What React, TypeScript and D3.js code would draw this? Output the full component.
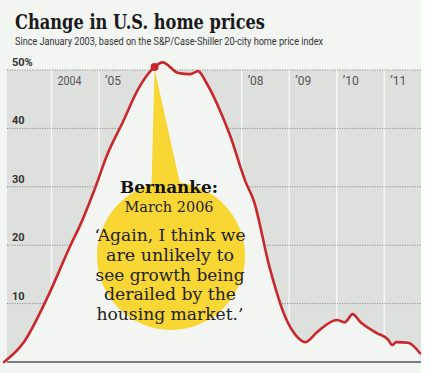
import React from "react";
import * as d3 from "d3";

const months: string[] = [
  "2003-01", "2003-06", "2003-12", "2004-06", "2004-08", "2004-12",
  "2005-03", "2005-07", "2005-11", "2006-03", "2006-05", "2006-09",
  "2006-12", "2007-02", "2007-04", "2007-08", "2007-10", "2008-02",
  "2008-04", "2008-08", "2008-12", "2009-03", "2009-05", "2009-08",
  "2010-01", "2010-03", "2010-05", "2010-07", "2010-11", "2011-02",
  "2011-03", "2011-04", "2011-07", "2011-10",
];
const values: number[] = [
  0, 3.4, 11.1, 20.3, 23.1, 29.8,
  35.4, 41.1, 46.9, 50.5, 51.3, 49.5,
  49.3, 49.8, 47.9, 42.3, 38.9, 30.8,
  27.7, 16.3, 7.7, 4.3, 3.4, 5.1,
  7.2, 6.8, 8.2, 6.8, 5.0, 3.8,
  2.9, 3.4, 3.3, 1.5,
];
const yTicks: number[] = [10, 20, 30, 40, 50];
const yTickLabels: string[] = ["10", "20", "30", "40", "50%"];
const gridYears: number[] = [2004, 2005, 2006, 2007, 2008, 2009, 2010, 2011];
const yearLabelYears: number[] = [2004, 2005, 2008, 2009, 2010, 2011];
const yearLabels: string[] = ["2004", "\u201905", "\u201908", "\u201909", "\u201910", "\u201911"];
const highlightMonth = "2006-03";
const quoteLines: string[] = [
  "\u2018Again, I think we",
  "are unlikely to",
  "see growth being",
  "derailed by the",
  "housing market.\u2019",
];
const quoteWidths: number[] = [151, 128, 149, 132, 147];

const parseMonth = (s: string): number => {
  const [y, m] = s.split("-").map(Number);
  return y + (m - 1) / 12;
};

export default function App() {
  const W = 431;
  const H = 373;
  const x = d3.scaleLinear().domain([2003, 2011.75]).range([4, 420]);
  const y = d3.scaleLinear().domain([0, 50]).range([362, 70]);
  const data = months.map((m, i) => ({ t: parseMonth(m), v: values[i] }));
  const line = d3
    .line<{ t: number; v: number }>()
    .x((d) => x(d.t))
    .y((d) => y(d.v))
    .curve(d3.curveMonotoneX);
  const area = d3
    .area<{ t: number; v: number }>()
    .x((d) => x(d.t))
    .y0(y(0))
    .y1((d) => y(d.v))
    .curve(d3.curveMonotoneX);
  const hi = data[months.indexOf(highlightMonth)];
  const hx = x(hi.t);
  const hy = y(hi.v);

  const bg = "#f2f5f1";
  const gray = "#dde0dc";
  const red = "#c8282d";
  const yellow = "#f8d633";
  const cx = 171;
  const cy = 256;
  const r = 74;

  return (
    <svg
      width={W}
      height={H}
      style={{ position: "absolute", left: 0, top: 0, background: "#fff" }}
    >
      <rect x={0} y={0} width={421} height={H} fill={bg} />
      <text
        x={15}
        y={29}
        fontFamily="DejaVu Serif"
        fontWeight="bold"
        fontSize={20}
        fill="#1a1a1a"
        textLength={250}
        lengthAdjust="spacingAndGlyphs"
      >
        Change in U.S. home prices
      </text>
      <text
        x={15}
        y={45}
        fontFamily="Roboto, Liberation Sans, sans-serif"
        fontSize={10}
        fill="#333"
        textLength={308}
        lengthAdjust="spacingAndGlyphs"
      >
        Since January 2003, based on the S&amp;P/Case-Shiller 20-city home price index
      </text>

      <rect x={7} y={y(50)} width={421 - 7} height={y(0) - y(50)} fill={gray} />
      {gridYears.map((yr) => (
        <line
          key={yr}
          x1={x(yr)}
          x2={x(yr)}
          y1={y(50)}
          y2={y(0)}
          stroke="#f6f7f5"
          strokeWidth={1.5}
        />
      ))}
      {yTicks.map((v) => (
        <line
          key={v}
          x1={7}
          x2={421}
          y1={y(v)}
          y2={y(v)}
          stroke="#8a8d8a"
          strokeWidth={1}
          strokeDasharray="1.2,1.3"
        />
      ))}
      {yearLabelYears.map((yr, i) => (
        <text
          key={yr}
          x={x(yr) + 6}
          y={y(50) + 15}
          fontFamily="Roboto, sans-serif"
          fontSize={12}
          fill="#555"
          textLength={yr === 2004 ? 24 : undefined}
          lengthAdjust="spacingAndGlyphs"
        >
          {yearLabels[i]}
        </text>
      ))}
      <path d={area(data) || ""} fill={bg} />
      {yTicks.map((v, i) => (
        <text
          key={v}
          x={12}
          y={y(v) - 4}
          fontFamily="Roboto, sans-serif"
          fontWeight="bold"
          fontSize={11}
          fill="#333"
        >
          {yTickLabels[i]}
        </text>
      ))}

      <path
        d={`M${hx},${hy + 2} L${hx - 3},${cy - 70} L${hx + 26},${cy - 70} Z`}
        fill={yellow}
      />
      <circle cx={cx} cy={cy} r={r} fill={yellow} />

      <path d={line(data) || ""} fill="none" stroke={red} strokeWidth={2.6} strokeLinejoin="round" strokeLinecap="round" />
      <circle cx={hx} cy={hy} r={4} fill={red} />
      <line x1={7} x2={421} y1={y(0)} y2={y(0)} stroke="#555" strokeWidth={1.5} />

      <text
        x={169}
        y={193}
        textAnchor="middle"
        fontFamily="DejaVu Serif"
        fontWeight="bold"
        fontSize={16}
        fill="#111"
        textLength={98}
        lengthAdjust="spacingAndGlyphs"
      >
        Bernanke:
      </text>
      <text
        x={169}
        y={212}
        textAnchor="middle"
        fontFamily="DejaVu Serif"
        fontSize={14}
        fill="#222"
        textLength={89}
        lengthAdjust="spacingAndGlyphs"
      >
        March 2006
      </text>
      {quoteLines.map((s, i) => (
        <text
          key={i}
          x={170}
          y={241 + i * 19.8}
          textAnchor="middle"
          fontFamily="DejaVu Serif"
          fontSize={16}
          fill="#222"
          textLength={quoteWidths[i]}
          lengthAdjust="spacingAndGlyphs"
        >
          {s}
        </text>
      ))}
    </svg>
  );
}
